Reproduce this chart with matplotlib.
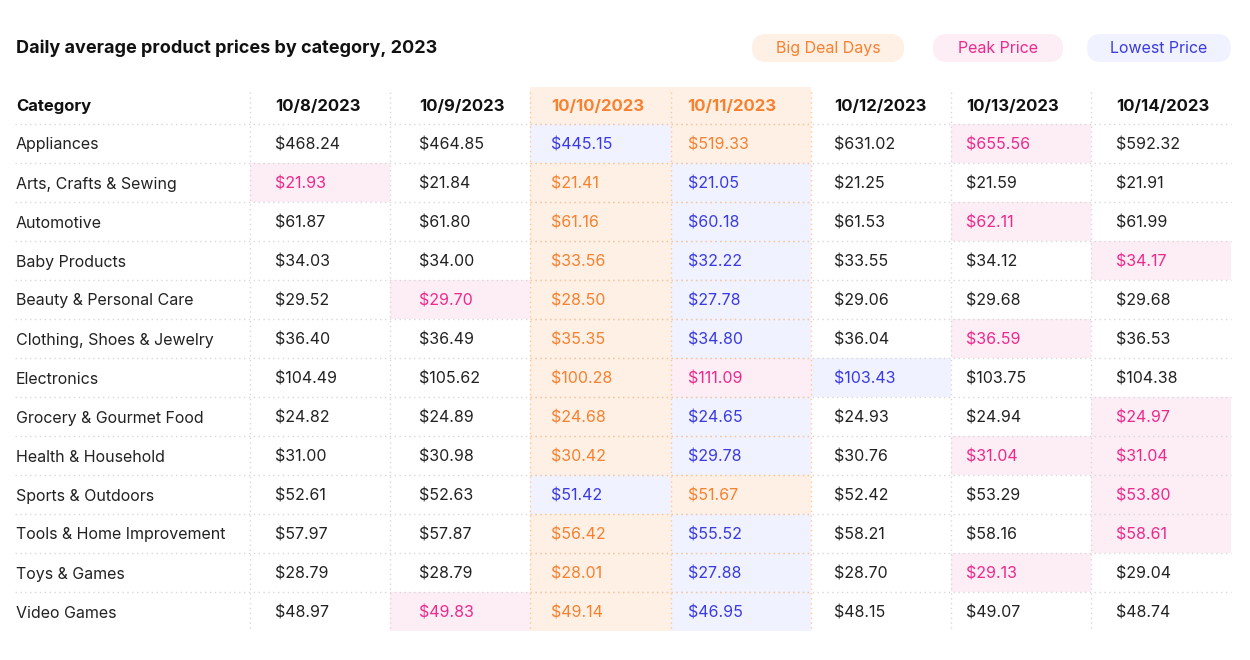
import matplotlib.pyplot as plt
from matplotlib.patches import Rectangle, FancyBboxPatch

# table data
dates = ['10/8/2023', '10/9/2023', '10/10/2023', '10/11/2023',
         '10/12/2023', '10/13/2023', '10/14/2023']
categories = ['Appliances', 'Arts, Crafts & Sewing', 'Automotive', 'Baby Products',
              'Beauty & Personal Care', 'Clothing, Shoes & Jewelry', 'Electronics',
              'Grocery & Gourmet Food', 'Health & Household', 'Sports & Outdoors',
              'Tools & Home Improvement', 'Toys & Games', 'Video Games']
prices = [
    [468.24, 464.85, 445.15, 519.33, 631.02, 655.56, 592.32],
    [21.93, 21.84, 21.41, 21.05, 21.25, 21.59, 21.91],
    [61.87, 61.80, 61.16, 60.18, 61.53, 62.11, 61.99],
    [34.03, 34.00, 33.56, 32.22, 33.55, 34.12, 34.17],
    [29.52, 29.70, 28.50, 27.78, 29.06, 29.68, 29.68],
    [36.40, 36.49, 35.35, 34.80, 36.04, 36.59, 36.53],
    [104.49, 105.62, 100.28, 111.09, 103.43, 103.75, 104.38],
    [24.82, 24.89, 24.68, 24.65, 24.93, 24.94, 24.97],
    [31.00, 30.98, 30.42, 29.78, 30.76, 31.04, 31.04],
    [52.61, 52.63, 51.42, 51.67, 52.42, 53.29, 53.80],
    [57.97, 57.87, 56.42, 55.52, 58.21, 58.16, 58.61],
    [28.79, 28.79, 28.01, 27.88, 28.70, 29.13, 29.04],
    [48.97, 49.83, 49.14, 46.95, 48.15, 49.07, 48.74],
]
# highlighted cells (column indices) per row, as marked in the chart
peak_cols = [[5], [0], [5], [6], [1], [5], [3], [6], [5, 6], [6], [6], [5], [1]]
low_cols = [[2], [3], [3], [3], [3], [3], [4], [3], [3], [2], [3], [3], [3]]
deal_cols = [2, 3]

ORANGE = '#f7812f'
ORANGE_BG = '#fff0e5'
PINK = '#ec2a8c'
PINK_BG = '#fdedf5'
BLUE = '#3a3ae0'
BLUE_BG = '#f0f3ff'
GRID = '#d8d8d8'
ORANGE_GRID = '#fcc79a'
DOTS = (0, (1, 2.5))

plt.rcParams['font.family'] = ['Inter', 'DejaVu Sans']

fig = plt.figure(figsize=(12.5, 6.6), dpi=100)
ax = fig.add_axes([0, 0, 1, 1])
ax.set_xlim(0, 1250)
ax.set_ylim(660, 0)
ax.axis('off')

# layout (pixels)
left, first_col, col_w = 15, 250, 140.2
head_top, head_bot, row_h = 87, 124, 39
text_pad = [25, 29, 21, 17, 23, 15, 25]   # text inset inside each date column
n_rows = len(categories)
bottom = head_bot + n_rows * row_h
right = first_col + col_w * len(dates)

def col_x(j):
    return first_col + j * col_w

# big deal days band
ax.add_patch(Rectangle((col_x(deal_cols[0]), head_top), col_w * len(deal_cols),
                       bottom - head_top, facecolor=ORANGE_BG, edgecolor='none', zorder=0))

# highlighted cells
for i in range(n_rows):
    y0 = head_bot + i * row_h
    for j in peak_cols[i]:
        ax.add_patch(Rectangle((col_x(j), y0), col_w, row_h, facecolor=PINK_BG,
                               edgecolor='none', zorder=1))
    for j in low_cols[i]:
        ax.add_patch(Rectangle((col_x(j), y0), col_w, row_h, facecolor=BLUE_BG,
                               edgecolor='none', zorder=1))

# grid lines
for i in range(n_rows):
    y = head_bot + i * row_h
    ax.plot([left, right], [y, y], color=GRID, lw=1, ls=DOTS, zorder=2)
    ax.plot([col_x(deal_cols[0]), col_x(deal_cols[-1] + 1)], [y, y], color=ORANGE_GRID,
            lw=1, ls=DOTS, zorder=3)
for j in range(len(dates)):
    x = col_x(j)
    c = ORANGE_GRID if j in deal_cols or j - 1 in deal_cols else GRID
    ax.plot([x, x], [head_top + 5, bottom], color=c, lw=1, ls=DOTS, zorder=3)

# header
head_y = (head_top + head_bot) / 2 + 1
ax.text(left + 1, head_y, 'Category', fontsize=12, fontweight='bold', va='center',
        color='#111111')
for j, d in enumerate(dates):
    c = ORANGE if j in deal_cols else '#111111'
    ax.text(col_x(j) + text_pad[j], head_y, d, fontsize=12, fontweight='bold',
            va='center', color=c)

# body
for i, cat in enumerate(categories):
    y = head_bot + i * row_h + row_h / 2 + 1.5
    ax.text(left + 1, y, cat, fontsize=11.5, va='center', color='#222222')
    for j, v in enumerate(prices[i]):
        if j in peak_cols[i]:
            c = PINK
        elif j in low_cols[i]:
            c = BLUE
        elif j in deal_cols:
            c = ORANGE
        else:
            c = '#222222'
        ax.text(col_x(j) + text_pad[j], y, f'${v:,.2f}', fontsize=11.5, va='center',
                color=c, zorder=4)

# title
ax.text(16, 48, 'Daily average product prices by category, 2023', fontsize=13,
        fontweight='bold', va='center', color='#111111')

# legend pills
pills = [('Big Deal Days', ORANGE, ORANGE_BG, 752, 904),
         ('Peak Price', PINK, PINK_BG, 933, 1063),
         ('Lowest Price', BLUE, BLUE_BG, 1087, 1231)]
for label, fg, bg, x0, x1 in pills:
    ax.add_patch(FancyBboxPatch((x0, 34), x1 - x0, 28,
                                boxstyle='round,pad=0,rounding_size=14',
                                facecolor=bg, edgecolor='none'))
    ax.text((x0 + x1) / 2, 48.5, label, fontsize=11.5, ha='center', va='center', color=fg)

fig.savefig('out.png', dpi=100, facecolor='white')
